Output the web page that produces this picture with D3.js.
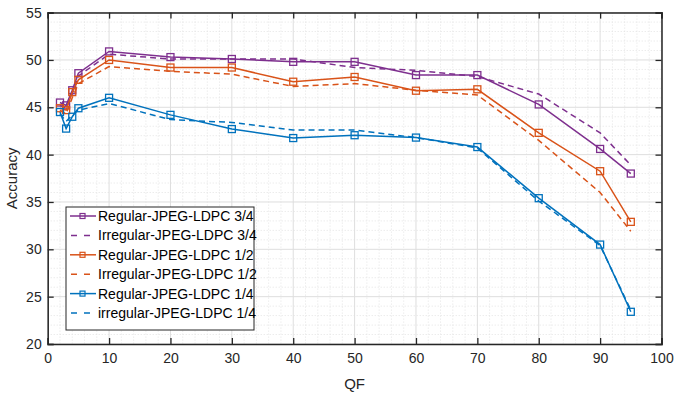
<!DOCTYPE html>
<html><head><meta charset="utf-8">
<script src="https://cdn.jsdelivr.net/npm/d3@7"></script>
<style>body{margin:0;background:#fff}svg{display:block}</style>
</head><body>
<svg id="c" width="674" height="399"></svg>
<script>
const qf = [2,3,4,5,10,20,30,40,50,60,70,80,90,95];
const reg34 = [45.5,45.2,46.8,48.6,50.9,50.3,50.1,49.8,49.8,48.4,48.4,45.3,40.6,38.0];
const irr34 = [45.2,44.9,46.4,48.3,50.6,50.1,50.1,50.1,49.2,48.9,48.25,46.4,42.3,38.9];
const reg12 = [44.9,44.7,46.6,47.9,50.0,49.2,49.2,47.7,48.2,46.75,46.9,42.3,38.25,32.9];
const irr12 = [44.7,44.3,46.0,47.5,49.3,48.8,48.5,47.2,47.5,46.8,46.3,41.5,36.0,31.9];
const reg14 = [44.5,42.75,44.0,44.9,46.0,44.2,42.7,41.75,42.05,41.8,40.8,35.4,30.5,23.4];
const irr14 = [44.3,43.5,44.2,44.7,45.4,43.7,43.4,42.6,42.6,41.8,40.7,35.1,30.4,23.6];
const seriesNames = ["Regular-JPEG-LDPC 3/4","Irregular-JPEG-LDPC 3/4","Regular-JPEG-LDPC 1/2","Irregular-JPEG-LDPC 1/2","Regular-JPEG-LDPC 1/4","irregular-JPEG-LDPC 1/4"];
const xTicks = [0,10,20,30,40,50,60,70,80,90,100];
const yTicks = [20,25,30,35,40,45,50,55];

const series = [
  {name:seriesNames[0], v:reg34, c:"#7E2F8E", dash:false},
  {name:seriesNames[1], v:irr34, c:"#7E2F8E", dash:true},
  {name:seriesNames[2], v:reg12, c:"#D95319", dash:false},
  {name:seriesNames[3], v:irr12, c:"#D95319", dash:true},
  {name:seriesNames[4], v:reg14, c:"#0072BD", dash:false},
  {name:seriesNames[5], v:irr14, c:"#0072BD", dash:true}
];

const svg = d3.select("#c");
const L=47.7, R=661.5, T=12.6, B=344;
const x = d3.scaleLinear().domain([0,100]).range([L,R]);
const y = d3.scaleLinear().domain([20,55]).range([B,T]);
const font = "'Liberation Sans', Arial, Helvetica, sans-serif";

// minor grid
const g = svg.append("g");
g.selectAll(".mx").data(d3.range(0,101,2).filter(v=>v%10)).join("line")
 .attr("x1",d=>x(d)).attr("x2",d=>x(d)).attr("y1",T).attr("y2",B)
 .attr("stroke","#e3e3e3").attr("stroke-width",1).attr("stroke-dasharray","1,2");
g.selectAll(".my").data(d3.range(20,56,1).filter(v=>v%5)).join("line")
 .attr("y1",d=>y(d)).attr("y2",d=>y(d)).attr("x1",L).attr("x2",R)
 .attr("stroke","#e3e3e3").attr("stroke-width",1).attr("stroke-dasharray","1,2");
// major grid
g.selectAll(".Mx").data(xTicks).join("line")
 .attr("x1",d=>x(d)).attr("x2",d=>x(d)).attr("y1",T).attr("y2",B)
 .attr("stroke","#dedede").attr("stroke-width",1);
g.selectAll(".My").data(yTicks).join("line")
 .attr("y1",d=>y(d)).attr("y2",d=>y(d)).attr("x1",L).attr("x2",R)
 .attr("stroke","#dedede").attr("stroke-width",1);

// lines
const line = d3.line().x((d,i)=>x(qf[i])).y(d=>y(d));
series.forEach(s=>{
  svg.append("path").attr("d",line(s.v)).attr("fill","none")
    .attr("stroke",s.c).attr("stroke-width",1.5)
    .attr("stroke-dasharray",s.dash?"6,4":null);
  if(!s.dash){
    svg.append("g").selectAll("rect").data(s.v).join("rect")
      .attr("x",(d,i)=>x(qf[i])-3.5).attr("y",d=>y(d)-3.5)
      .attr("width",7).attr("height",7)
      .attr("fill","none").attr("stroke",s.c).attr("stroke-width",1.3);
  }
});

// axes
const axCol="#262626";
const xb = svg.append("g").attr("transform",`translate(0,${B})`)
  .call(d3.axisBottom(x).tickValues(xTicks).tickSize(-6).tickPadding(9));
const xt = svg.append("g").attr("transform",`translate(0,${T})`)
  .call(d3.axisTop(x).tickValues(xTicks).tickSize(-6).tickFormat(""));
const yl = svg.append("g").attr("transform",`translate(${L},0)`)
  .call(d3.axisLeft(y).tickValues(yTicks).tickSize(-6).tickPadding(6));
const yr = svg.append("g").attr("transform",`translate(${R},0)`)
  .call(d3.axisRight(y).tickValues(yTicks).tickSize(-6).tickFormat(""));
[xb,xt,yl,yr].forEach(a=>{
  a.select(".domain").attr("stroke",axCol).attr("stroke-width",1.5);
  a.selectAll(".tick line").attr("stroke",axCol).attr("stroke-width",1.3);
  a.selectAll("text").attr("fill",axCol).style("font-family",font).style("font-size","14px");
});

svg.append("text").attr("x",(L+R)/2).attr("y",389).attr("text-anchor","middle")
  .style("font-family",font).style("font-size","15px").attr("fill",axCol).text("QF");
svg.append("text").attr("transform",`translate(17,${(T+B)/2}) rotate(-90)`)
  .attr("text-anchor","middle").style("font-family",font).style("font-size","15px")
  .attr("fill",axCol).text("Accuracy");

// legend
const lg = svg.append("g");
lg.append("rect").attr("x",66).attr("y",207).attr("width",188).attr("height",123)
  .attr("fill","#fff").attr("stroke","#262626").attr("stroke-width",1);
series.forEach((s,i)=>{
  const yy = 216 + i*19.4;
  lg.append("line").attr("x1",70).attr("x2",96).attr("y1",yy).attr("y2",yy)
    .attr("stroke",s.c).attr("stroke-width",1.5).attr("stroke-dasharray",s.dash?"6,7":null)
    .attr("stroke-dashoffset",s.dash?-1:0);
  if(!s.dash) lg.append("rect").attr("x",80).attr("y",yy-2.5).attr("width",5).attr("height",5)
    .attr("fill","none").attr("stroke",s.c).attr("stroke-width",1.2);
  lg.append("text").attr("x",98).attr("y",yy+5).style("font-family",font).style("font-size","14px")
    .attr("fill","#000").text(s.name);
});
</script>
</body></html>
